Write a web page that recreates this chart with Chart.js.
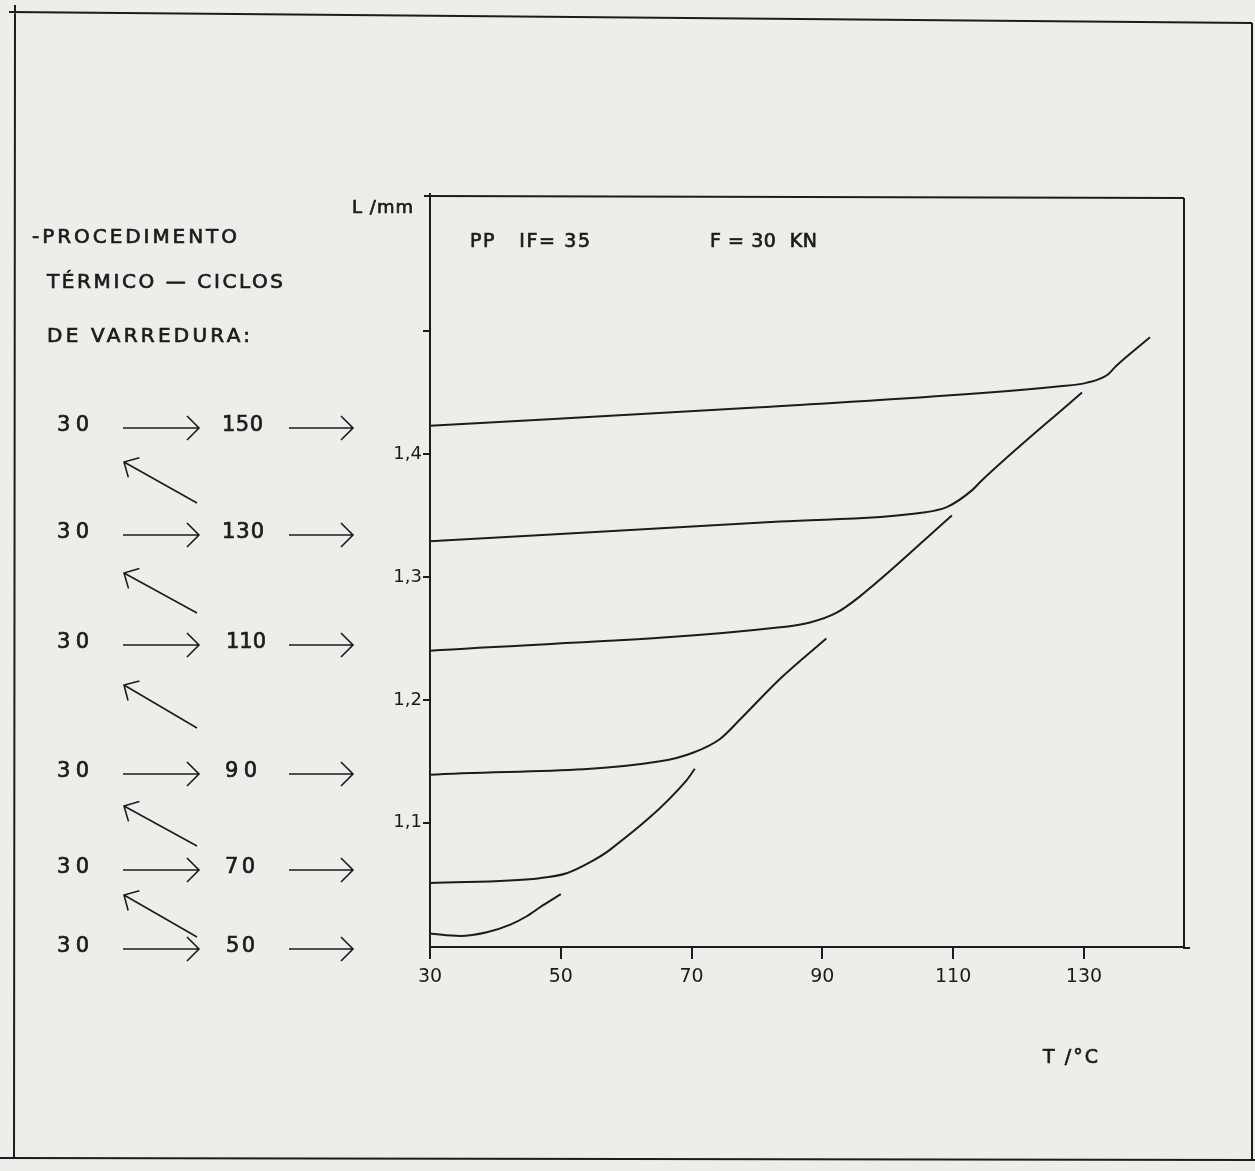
<!DOCTYPE html>
<html>
<head>
<meta charset="utf-8">
<title>PP IF=35 - L / T</title>
<script src="https://cdn.jsdelivr.net/npm/chart.js@4.4.1/dist/chart.umd.min.js"></script>
<style>
  html, body { margin: 0; padding: 0; background: #eceee9; }
  #wrap { width: 1255px; height: 1171px; }
</style>
</head>
<body>
<div id="wrap"><canvas id="chart" width="1255" height="1171"></canvas></div>
<script>
// values: T in °C, L in mm, one curve per sweep limit
const t50  = [30, 34.6, 38.7, 42.2, 44.8, 47.3, 50.0];
const l50  = [1.010, 1.008, 1.011, 1.017, 1.024, 1.033, 1.042];
const t70  = [30, 46.8, 50.9, 54.5, 57.5, 69.3, 70.5];
const l70  = [1.051, 1.055, 1.059, 1.068, 1.078, 1.135, 1.144];
const t90  = [30, 65.2, 70.2, 74.3, 77.4, 83.5, 90.6];
const l90  = [1.139, 1.150, 1.157, 1.168, 1.184, 1.217, 1.250];
const t110 = [30, 83.5, 88.1, 92.2, 95.7, 109.8];
const l110 = [1.240, 1.259, 1.263, 1.271, 1.284, 1.350];
const t130 = [30, 83.5, 104.9, 109.1, 113.0, 114.1, 129.7];
const l130 = [1.329, 1.345, 1.352, 1.357, 1.371, 1.377, 1.450];
const t150 = [30, 80.5, 126.3, 130.5, 133.5, 135.0, 140.1];
const l150 = [1.423, 1.438, 1.455, 1.458, 1.464, 1.472, 1.495];

const xTicks = [30, 50, 70, 90, 110, 130];
const yTicks = [1.1, 1.2, 1.3, 1.4, 1.5];
const yTickLabels = ['1,1', '1,2', '1,3', '1,4', ''];

// sweep cycles listed on the left: 30 -> top -> back
const sweepStart = 30;
const sweepTops = [150, 130, 110, 90, 70, 50];

const INK = '#1c1c1c';
const FONT = '"DejaVu Sans", sans-serif';

const curves = [[t50, l50], [t70, l70], [t90, l90], [t110, l110], [t130, l130], [t150, l150]];

// text with letter spacing stretched to a given width (stencil lettering is wide)
function spaced(ctx, text, x, y, w, size) {
  ctx.font = size + 'px ' + FONT;
  ctx.letterSpacing = '0px';
  const natural = ctx.measureText(text).width;
  const ls = Math.max(0, (w - natural) / Math.max(1, text.length - 1));
  ctx.letterSpacing = ls.toFixed(2) + 'px';
  ctx.textAlign = 'left';
  ctx.textBaseline = 'middle';
  ctx.fillText(text, x, y);
  ctx.lineWidth = 0.7;
  ctx.strokeText(text, x, y);
  ctx.letterSpacing = '0px';
}

function arrow(ctx, x1, y1, x2, y2, len) {
  const a = Math.atan2(y2 - y1, x2 - x1);
  ctx.lineWidth = 1.6;
  ctx.beginPath();
  ctx.moveTo(x1, y1);
  ctx.lineTo(x2, y2);
  ctx.moveTo(x2 - len * Math.cos(a - Math.PI / 4), y2 - len * Math.sin(a - Math.PI / 4));
  ctx.lineTo(x2, y2);
  ctx.lineTo(x2 - len * Math.cos(a + Math.PI / 4), y2 - len * Math.sin(a + Math.PI / 4));
  ctx.stroke();
}

const paper = {
  id: 'paper',
  beforeDraw(chart) {
    const ctx = chart.ctx;
    ctx.save();
    ctx.fillStyle = '#eceee9';
    ctx.fillRect(0, 0, chart.width, chart.height);
    ctx.restore();
  },
  afterDraw(chart) {
    const ctx = chart.ctx;
    const a = chart.chartArea;
    ctx.save();
    ctx.strokeStyle = INK;
    ctx.fillStyle = INK;

    // page frame
    ctx.lineWidth = 2;
    ctx.beginPath();
    ctx.moveTo(9, 12); ctx.lineTo(1252, 23);
    ctx.moveTo(15, 5); ctx.lineTo(14, 1158);
    ctx.moveTo(0, 1158); ctx.lineTo(1255, 1160);
    ctx.moveTo(1252, 23); ctx.lineTo(1252, 1160);
    ctx.stroke();

    // plot box top and right sides
    ctx.beginPath();
    ctx.moveTo(a.left - 6, a.top - 1); ctx.lineTo(a.right, a.top + 1);
    ctx.moveTo(a.right, a.top + 1); ctx.lineTo(a.right, a.bottom + 1);
    ctx.lineTo(a.right + 6, a.bottom + 1);
    ctx.moveTo(a.left, a.top - 4); ctx.lineTo(a.left, a.top);
    ctx.stroke();

    // axis titles and notes
    spaced(ctx, 'L /mm', 352, 208, 61, 18);
    spaced(ctx, 'PP   IF= 35', 470, 242, 120, 19);
    spaced(ctx, 'F = 30  KN', 710, 242, 107, 19);
    spaced(ctx, 'T /°C', 1043, 1058, 55, 19);

    // procedure description
    spaced(ctx, '-PROCEDIMENTO', 32, 238, 205, 20);
    spaced(ctx, 'TÉRMICO — CICLOS', 47, 283, 236, 20);
    spaced(ctx, 'DE VARREDURA:', 47, 337, 203, 20);

    const rowY = [426, 533, 643, 772, 868, 947];
    const topX = [222, 222, 226, 225, 225, 226];
    const topW = [41, 42, 32, 32, 30, 29];
    // return sweeps, tail (lower right) to head (upper left)
    const backTail = [503, 613, 728, 846, 937];
    const backHead = [462, 573, 685, 806, 895];
    sweepTops.forEach((top, i) => {
      const y = rowY[i];
      spaced(ctx, String(sweepStart), 57, y, 32, 21);
      spaced(ctx, String(top), topX[i], y, topW[i], 21);
      arrow(ctx, 123, y + 2, 199, y + 2, 17);
      arrow(ctx, 289, y + 2, 353, y + 2, 17);
      if (i < backTail.length) {
        arrow(ctx, 197, backTail[i], 124, backHead[i], 16);
      }
    });
    ctx.restore();
  }
};

new Chart(document.getElementById('chart'), {
  type: 'line',
  data: {
    datasets: curves.map(([t, l], i) => ({
      label: 'até ' + sweepTops[sweepTops.length - 1 - i] + ' °C',
      data: t.map((v, k) => ({ x: v, y: l[k] })),
      borderColor: INK,
      borderWidth: 2,
      pointRadius: 0,
      fill: false,
      cubicInterpolationMode: 'monotone'
    }))
  },
  options: {
    responsive: false,
    animation: false,
    events: [],
    layout: { padding: { left: 370, right: 71, top: 197, bottom: 174 } },
    plugins: { legend: { display: false }, tooltip: { enabled: false } },
    scales: {
      x: {
        type: 'linear',
        min: 30,
        max: 145.3,
        afterBuildTicks: s => { s.ticks = xTicks.map(v => ({ value: v })); },
        afterFit: s => { s.height = 50; },
        grid: { drawOnChartArea: false, drawTicks: true, tickLength: 12, color: INK, lineWidth: 2 },
        border: { display: true, color: INK, width: 2 },
        ticks: {
          color: INK,
          font: { family: FONT, size: 19 },
          padding: 7,
          maxRotation: 0,
          autoSkip: false,
          callback: v => String(v)
        }
      },
      y: {
        type: 'linear',
        min: 0.999,
        max: 1.609,
        afterBuildTicks: s => { s.ticks = yTicks.map(v => ({ value: v })); },
        afterFit: s => { s.width = 60; },
        grid: { drawOnChartArea: false, drawTicks: true, tickLength: 7, color: INK, lineWidth: 2 },
        border: { display: true, color: INK, width: 2 },
        ticks: {
          color: INK,
          font: { family: FONT, size: 18 },
          padding: 1,
          autoSkip: false,
          callback: v => yTickLabels[yTicks.indexOf(v)]
        }
      }
    }
  },
  plugins: [paper]
});
</script>
</body>
</html>
